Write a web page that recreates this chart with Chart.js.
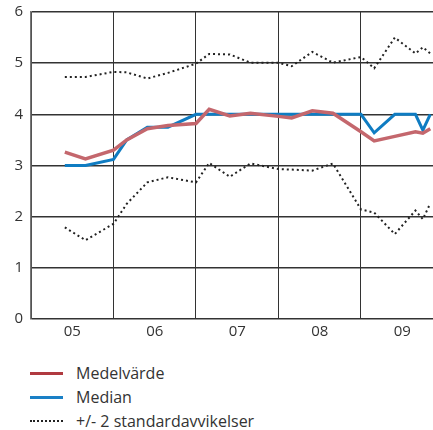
<!DOCTYPE html>
<html>
<head>
<meta charset="utf-8">
<script src="https://cdn.jsdelivr.net/npm/chart.js@4"></script>
<style>
  html,body{margin:0;padding:0;background:#fff;}
  #wrap{position:relative;width:433px;height:345px;}
  #legend{font-family:"Open Sans","Noto Sans",sans-serif;font-size:16px;color:#333;margin-top:16px;}
  .row{display:flex;align-items:center;height:24px;}
  .sw{width:33px;margin-left:30px;margin-right:13px;}
</style>
</head>
<body>
<div id="wrap"><canvas id="c" width="433" height="345"></canvas></div>
<div id="legend">
  <div class="row"><div class="sw" style="border-top:3px solid #b03a40"></div>Medelvärde</div>
  <div class="row"><div class="sw" style="border-top:3px solid #1a80c6"></div>Median</div>
  <div class="row"><div class="sw" style="border-top:2px dotted #222"></div>+/- 2 standardavvikelser</div>
</div>
<script>
// decimal years of observations
const times = [2005.41, 2005.66, 2006.0, 2006.16, 2006.41, 2006.66, 2007.0, 2007.16, 2007.41, 2007.66,
               2008.0, 2008.16, 2008.41, 2008.66, 2009.0, 2009.16, 2009.41, 2009.66, 2009.75, 2009.84];
const medelvarde = [3.26, 3.13, 3.30, 3.50, 3.72, 3.78, 3.82, 4.10, 3.97, 4.02,
                    3.96, 3.93, 4.07, 4.02, 3.66, 3.48, 3.57, 3.66, 3.63, 3.72];
const median = [3.0, 3.0, 3.12, 3.5, 3.75, 3.75, 4.0, 4.0, 4.0, 4.0,
                4.0, 4.0, 4.0, 4.0, 4.0, 3.64, 4.0, 4.0, 3.69, 4.0];
const ovre = [4.73, 4.73, 4.83, 4.82, 4.70, 4.81, 4.99, 5.18, 5.17, 5.01,
              5.01, 4.94, 5.22, 5.01, 5.12, 4.90, 5.50, 5.19, 5.31, 5.19];
const nedre = [1.79, 1.54, 1.86, 2.25, 2.67, 2.77, 2.67, 3.05, 2.78, 3.04,
               2.93, 2.92, 2.90, 3.04, 2.14, 2.08, 1.66, 2.12, 1.95, 2.26];
const yearLabels = ['05', '06', '07', '08', '09'];
const firstYear = 2005;

const pts = arr => arr.map((v, i) => ({x: times[i], y: v}));

new Chart(document.getElementById('c'), {
  type: 'line',
  data: {
    datasets: [
      {label: 'Medelvärde', data: pts(medelvarde), borderColor: '#c4676d', borderWidth: 3.5, order: 0},
      {label: 'Median', data: pts(median), borderColor: '#0f7cc2', borderWidth: 3, order: 1},
      {label: '+/- 2 standardavvikelser', data: pts(ovre), borderColor: '#222', borderWidth: 2, borderDash: [2, 3], order: 2},
      {label: '+/- 2 standardavvikelser (nedre)', data: pts(nedre), borderColor: '#222', borderWidth: 2, borderDash: [2, 3], order: 2}
    ]
  },
  options: {
    responsive: false,
    animation: false,
    layout: {padding: {top: 12, right: 0, left: 2, bottom: 0}},
    elements: {point: {radius: 0}, line: {tension: 0, borderJoinStyle: 'miter'}},
    plugins: {legend: {display: false}, tooltip: {enabled: false}},
    scales: {
      x: {
        type: 'linear',
        min: firstYear,
        max: firstYear + 4.873,
        afterBuildTicks: axis => {
          const t = [];
          for (let i = 0; i < yearLabels.length; i++) {
            t.push({value: firstYear + i});
            t.push({value: firstYear + i + 0.5});
          }
          axis.ticks = t;
        },
        afterFit: axis => { axis.height = 345 - 319; axis.paddingLeft = 0; axis.paddingRight = 0; },
        ticks: {
          autoSkip: false, maxRotation: 0, padding: 4,
          color: '#333', font: {family: '"Open Sans", sans-serif', size: 15},
          callback: v => {
            const f = v - firstYear;
            if (Math.abs(f - Math.floor(f) - 0.5) < 0.01) return yearLabels[Math.floor(f)];
            return '';
          }
        },
        grid: {
          color: ctx => {
            const v = ctx.tick ? ctx.tick.value : 0;
            const f = v - firstYear;
            return Math.abs(f - Math.round(f)) < 0.01 ? '#333' : 'rgba(0,0,0,0)';
          },
          lineWidth: 1, drawTicks: false
        },
        border: {display: false}
      },
      y: {
        min: 0, max: 6,
        afterFit: axis => { axis.width = 29; axis.paddingTop = 0; axis.paddingBottom = 0; },
        ticks: {
          stepSize: 1, padding: 8, color: '#333',
          font: {family: '"Open Sans", sans-serif', size: 15}
        },
        grid: {color: '#333', lineWidth: 1.6, drawTicks: false},
        border: {display: true, color: '#777', width: 1.5}
      }
    }
  }
});
</script>
</body>
</html>
